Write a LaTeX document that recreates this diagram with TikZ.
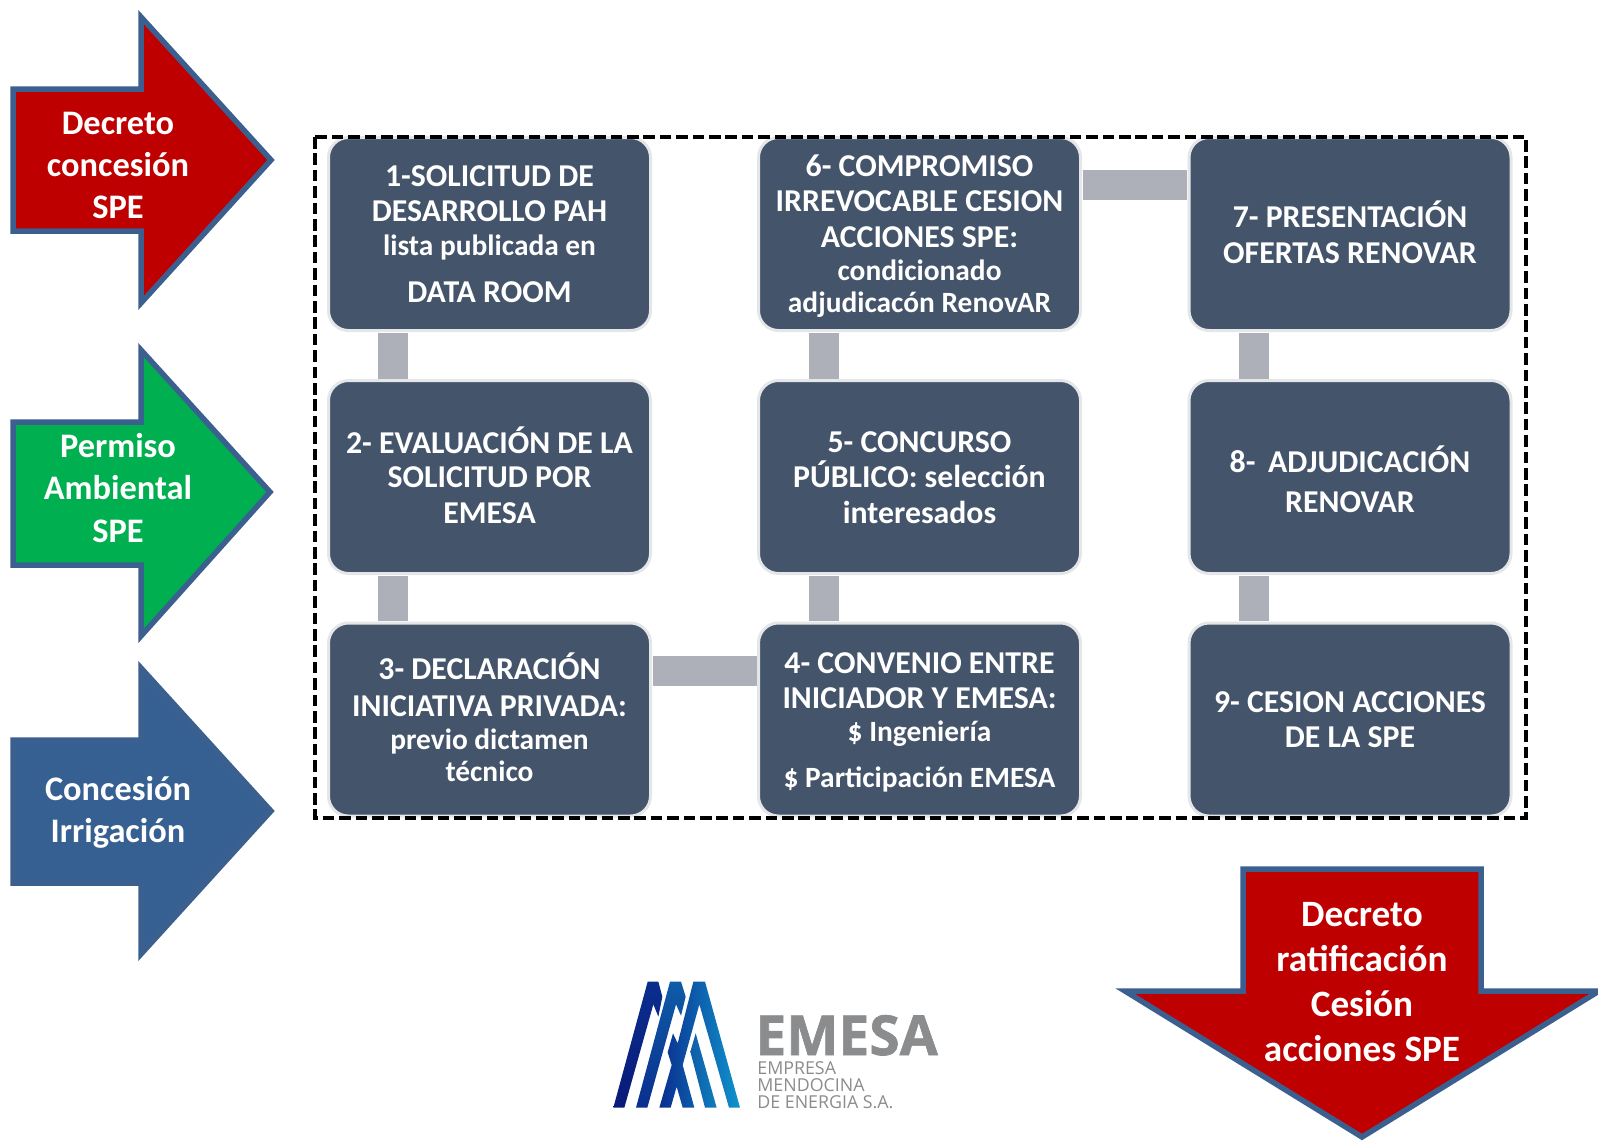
\documentclass[tikz,border=0pt]{standalone}
\usepackage{fontspec}
\setmainfont{Carlito}
\newfontfamily\logofont{Open Sans}
\newfontfamily\logoheavy{Open Sans}[BoldFeatures={FakeBold=1.2}]
\definecolor{boxblue}{HTML}{44546A}
\definecolor{boxedge}{HTML}{E4E6E9}
\definecolor{linkgray}{HTML}{ADB0B9}
\definecolor{arrowedge}{HTML}{3B6090}
\definecolor{steel}{HTML}{376092}
\definecolor{crimson}{HTML}{BF0000}
\definecolor{leaf}{HTML}{00B050}
\definecolor{logogray}{HTML}{8A8C8E}
\definecolor{HTMLa}{HTML}{0A1A78}
\definecolor{HTMLb}{HTML}{0A2E8E}
\definecolor{HTMLc}{HTML}{0F5CA8}
\definecolor{HTMLd}{HTML}{0E7FBE}
\definecolor{HTMLe}{HTML}{1094CE}
\newcommand{\sml}[1]{{\fontsize{14.7}{16}\selectfont #1}}
\newcommand{\tallstrut}[1]{\rule{0pt}{#1}}
\newcommand{\deepstrut}[1]{\rule[-#1]{0pt}{#1}}
\tikzset{
  stepbox/.style={draw=boxedge,line width=1.5pt,fill=boxblue,rounded corners=10pt,outer sep=0pt,
    minimum width=161pt,minimum height=96.5pt,inner sep=0pt,text=white,align=center,
    execute at begin node={\lineskiplimit=-20pt},
    font=\fontsize{15.9}{17.7}\selectfont\bfseries},
  link/.style={linkgray,line width=15pt},
  bigarrow/.style={draw=arrowedge,line width=2.75pt,miter limit=10},
  arrowtext/.style={text=white,align=center,inner sep=0pt,font=\fontsize{17.2}{21.2}\selectfont\bfseries},
  logotext/.style={text=logogray,anchor=base west,inner sep=0pt,text height=6.5pt,text depth=0pt,font=\logofont\fontsize{8.9}{9}\selectfont},
}
\begin{document}
\begin{tikzpicture}[x=0.5pt,y=-0.5pt]
\useasboundingbox (0,0) rectangle (1598,1141);
% side arrows
\draw[bigarrow,fill=crimson] (13,89) -- (141,89) -- (141,17) -- (271,160) -- (141,303) -- (141,231) -- (13,231) -- cycle;
\draw[bigarrow,fill=leaf] (13,422) -- (141,422) -- (141,350) -- (270,492) -- (141,636) -- (141,565) -- (13,565) -- cycle;
\draw[bigarrow,fill=steel] (13,740) -- (141,740) -- (141,668) -- (271,811) -- (141,954) -- (141,883) -- (13,883) -- cycle;
\draw[bigarrow,fill=crimson] (1243,869) -- (1481,869) -- (1481,991) -- (1599,991) -- (1362,1137) -- (1125,991) -- (1243,991) -- cycle;
\node[arrowtext] (t1) at (118,165.5) {Decreto\\concesión\\SPE};
\node[arrowtext] (t2) at (118,488) {Permiso\\Ambiental\\SPE};
\node[arrowtext] (t3) at (118,812.5) {Concesión\\Irrigación};
\node[arrowtext,font=\fontsize{18.6}{22.4}\selectfont\bfseries] (t4) at (1362,982) {Decreto\\ratificación\\Cesión\\acciones SPE};
% boxes
\node[stepbox] (n1) at (489.5,234) {1-SOLICITUD DE\\DESARROLLO PAH\\[-1pt]\sml{lista publicada en}\\[6pt]DATA ROOM};
\node[stepbox] (n2) at (489.5,477) {2- EVALUACIÓN DE LA\\[-0.4pt]SOLICITUD POR\\EMESA\deepstrut{2pt}};
\node[stepbox] (n3) at (489.5,719.5) {3- DECLARACIÓN\\[0.6pt]INICIATIVA PRIVADA:\\[-1pt]\sml{previo dictamen}\\[-1.6pt]\sml{técnico}\deepstrut{2pt}};
\node[stepbox] (n4) at (919.5,719.5) {\tallstrut{13pt}4- CONVENIO ENTRE\\INICIADOR Y EMESA:\\[-1pt]\sml{\$ Ingeniería}\\[5pt]\sml{\$ Participación EMESA}};
\node[stepbox] (n5) at (919.5,477) {\tallstrut{11pt}5- CONCURSO\\PÚBLICO: selección\\interesados};
\node[stepbox] (n6) at (919.5,234) {\tallstrut{13pt}6- COMPROMISO\\IRREVOCABLE CESION\\ACCIONES SPE:\\[-1pt]\sml{condicionado}\\[-1.6pt]\sml{adjudicacón RenovAR}};
\node[stepbox] (n7) at (1350,234) {7- PRESENTACIÓN\\OFERTAS RENOVAR\deepstrut{2pt}};
\node[stepbox] (n8) at (1350,477) {\tallstrut{15.5pt}8- \,ADJUDICACIÓN\\[2pt]RENOVAR};
\node[stepbox] (n9) at (1350,719.5) {9- CESION ACCIONES\\DE LA SPE};
% connectors
\draw[link] ([xshift=-48.25pt,yshift=-1pt]n1.south) -- ([xshift=-48.25pt,yshift=1pt]n2.north);
\draw[link] ([xshift=-48.25pt,yshift=-1pt]n2.south) -- ([xshift=-48.25pt,yshift=1pt]n3.north);
\draw[link] ([xshift=1pt,yshift=24.5pt]n3.east) -- ([xshift=-1pt,yshift=24.5pt]n4.west);
\draw[link] ([xshift=-47.75pt,yshift=1pt]n4.north) -- ([xshift=-47.75pt,yshift=-1pt]n5.south);
\draw[link] ([xshift=-47.75pt,yshift=1pt]n5.north) -- ([xshift=-47.75pt,yshift=-1pt]n6.south);
\draw[link] ([xshift=1pt,yshift=24.5pt]n6.east) -- ([xshift=-1pt,yshift=24.5pt]n7.west);
\draw[link] ([xshift=-48.25pt,yshift=-1pt]n7.south) -- ([xshift=-48.25pt,yshift=1pt]n8.north);
\draw[link] ([xshift=-48.25pt,yshift=-1pt]n8.south) -- ([xshift=-48.25pt,yshift=1pt]n9.north);
% dashed frame
\draw[black,line width=1.8pt,dash pattern=on 5.8pt off 2.4pt] (315,137) rectangle (1526,818);
% logo
\begin{scope}[shift={(605,975)},x=0.16667pt,y=-0.16667pt]
\shade[bottom color=HTMLa,top color=HTMLb] (128,20) -- (160,20) -- (172,65) -- (160,125) -- (145,88) -- (58,398) -- (25,398) -- cycle;
\shade[bottom color=HTMLb,top color=HTMLc] (195,20) -- (228,20) -- (242,65) -- (228,122) -- (213,88) -- (127,398) -- (93,398) -- cycle;
\shade[left color=HTMLb,right color=HTMLe] (265,20) -- (300,20) -- (405,398) -- (372,398) -- (283,88) -- (233,270) -- (268,398) -- (233,398) -- (215,335) -- (197,398) -- (163,398) -- (200,270) -- (188,232) -- (204,175) -- (218,205) -- cycle;
\shade[left color=HTMLc,right color=HTMLd] (272,175) -- (335,398) -- (300,398) -- (256,230) -- cycle;
\end{scope}
\node[text=logogray,anchor=base west,inner sep=0pt,text height=19pt,text depth=0pt,font=\logoheavy\fontsize{27.6}{27}\selectfont\bfseries] (emesa) at (755,1055) {EMESA};
\node[logotext] (l1) at (757,1074) {EMPRESA};
\node[logotext] (l2) at (757,1091) {MENDOCINA};
\node[logotext] (l3) at (757,1108) {DE ENERGIA S.A.};
\end{tikzpicture}
\end{document}
